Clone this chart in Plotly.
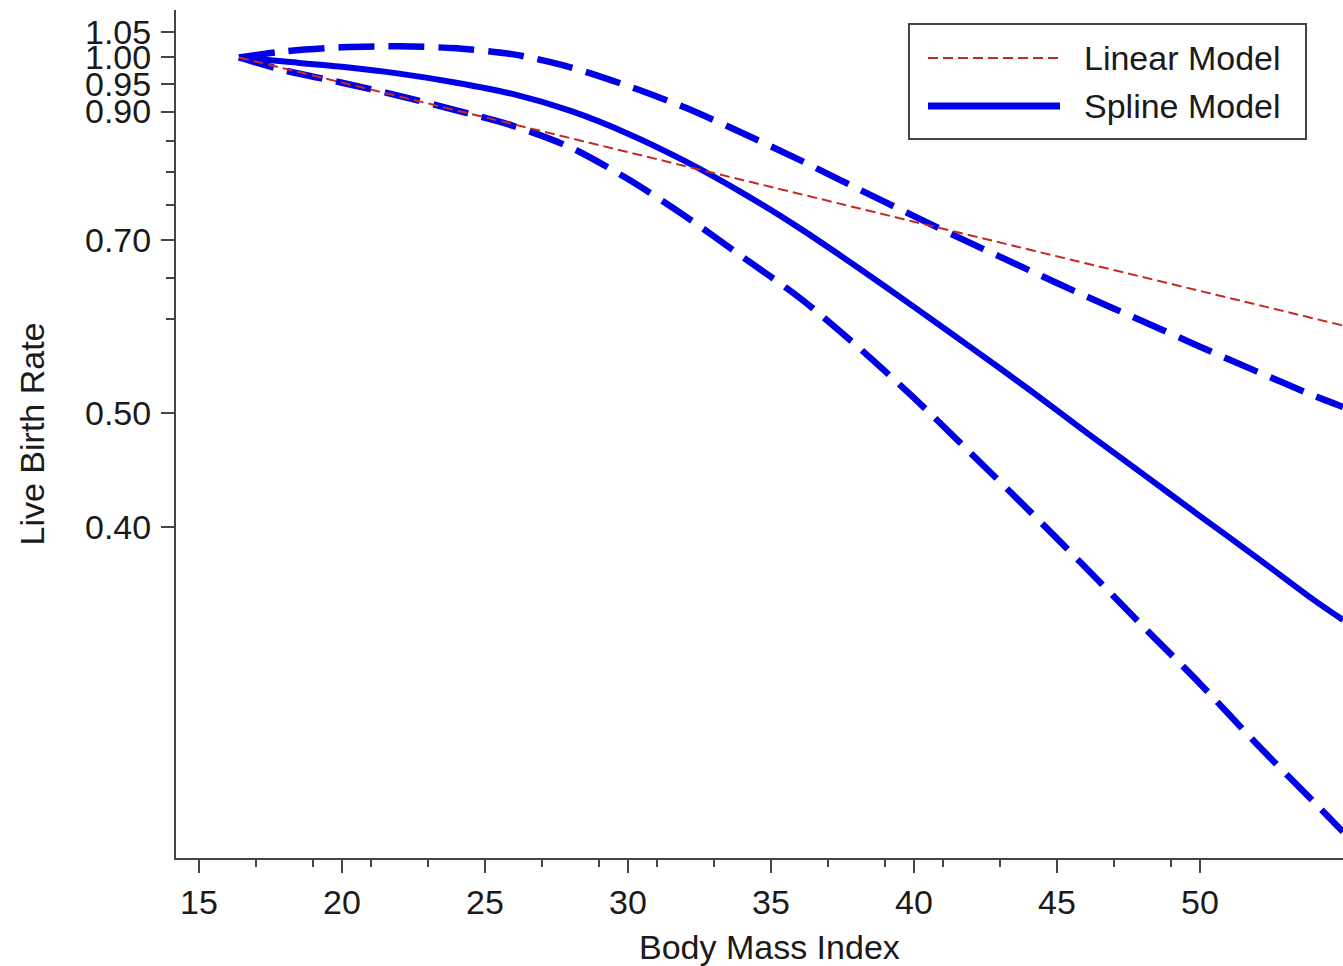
import plotly.graph_objects as go

# BMI grid for the restricted cubic spline fit and its 95% confidence band
bmi = [16.4, 18, 20, 22, 24, 26, 28, 30, 32, 34, 36, 38, 40, 42, 44, 46, 48, 50, 52, 54, 55]
spline_est = [1.000, 0.992, 0.982, 0.969, 0.952, 0.931, 0.901, 0.862, 0.817, 0.768, 0.717,
              0.665, 0.615, 0.568, 0.524, 0.482, 0.444, 0.409, 0.377, 0.347, 0.334]
spline_upper = [1.000, 1.012, 1.020, 1.022, 1.018, 1.006, 0.981, 0.946, 0.907, 0.863, 0.819,
                0.775, 0.734, 0.696, 0.661, 0.628, 0.598, 0.569, 0.542, 0.517, 0.506]
spline_lower = [1.000, 0.975, 0.952, 0.928, 0.902, 0.875, 0.839, 0.789, 0.734, 0.678, 0.626,
                0.570, 0.515, 0.462, 0.414, 0.370, 0.330, 0.295, 0.262, 0.234, 0.221]

# Log-linear model
linear_bmi = [16.4, 30, 40, 55]
linear_est = [1.000, 0.831, 0.726, 0.593]

# Axis ticks
x_major = [15, 20, 25, 30, 35, 40, 45, 50]
x_minor = [17, 19, 21, 23, 27, 29, 31, 33, 37, 39, 41, 43, 47, 49]
y_major = [0.40, 0.50, 0.70, 0.90, 0.95, 1.00, 1.05]
y_major_text = ["0.40", "0.50", "0.70", "0.90", "0.95", "1.00", "1.05"]
y_minor = [0.60, 0.65, 0.75, 0.80, 0.85]

legend_labels = ["Linear Model", "Spline Model"]

BLUE = "#0000e6"
RED = "#c52a22"
AXIS = "#444444"
TEXT = "#1a1a1a"
FONT = "Liberation Sans, Arial, sans-serif"

RED_LINE = dict(color=RED, width=2, dash="10px,5px")
BLUE_SOLID = dict(color=BLUE, width=6)
BLUE_DASH = dict(color=BLUE, width=6.5, dash="36px,14px")

fig = go.Figure()

for band in (spline_upper, spline_lower):
    fig.add_trace(go.Scatter(
        x=bmi, y=band, mode="lines", showlegend=False, hoverinfo="skip",
        line=dict(**BLUE_DASH, shape="spline", smoothing=0.8),
    ))

fig.add_trace(go.Scatter(
    x=bmi, y=spline_est, mode="lines", name=legend_labels[1], showlegend=False,
    line=dict(**BLUE_SOLID, shape="spline", smoothing=0.8),
))

fig.add_trace(go.Scatter(
    x=linear_bmi, y=linear_est, mode="lines", name=legend_labels[0], showlegend=False,
    line=RED_LINE,
))

# Boxed key in the upper right corner (paper coordinates)
box_x0, box_x1, box_y0, box_y1 = 0.6281, 0.9683, 0.8479, 0.9835
key_x0, key_x1, text_x = 0.6444, 0.7575, 0.7763
row_y = [0.9434, 0.8868]

fig.add_shape(type="rect", xref="paper", yref="paper",
              x0=box_x0, x1=box_x1, y0=box_y0, y1=box_y1,
              line=dict(color=AXIS, width=2), fillcolor="white", layer="above")
for ry, style, label in zip(row_y, (RED_LINE, dict(color=BLUE, width=7)), legend_labels):
    fig.add_shape(type="line", xref="paper", yref="paper",
                  x0=key_x0, x1=key_x1, y0=ry, y1=ry, line=style, layer="above")
    fig.add_annotation(text=label, xref="paper", yref="paper", x=text_x, y=ry,
                       xanchor="left", yanchor="middle", showarrow=False,
                       font=dict(size=34, color=TEXT))

fig.update_layout(
    width=1343, height=966,
    margin=dict(l=176, r=0, t=10, b=108),
    paper_bgcolor="white", plot_bgcolor="white",
    font=dict(family=FONT, size=34, color=TEXT),
    showlegend=False,
    xaxis=dict(
        range=[14.2, 55.0],
        tickmode="array", tickvals=x_major, ticktext=[str(v) for v in x_major],
        ticks="outside", ticklen=13, tickwidth=2, tickcolor=AXIS,
        showline=True, linecolor=AXIS, linewidth=2,
        showgrid=False, zeroline=False,
        minor=dict(tickmode="array", tickvals=x_minor, ticks="outside",
                   ticklen=7, tickwidth=2, tickcolor=AXIS, showgrid=False),
        tickfont=dict(size=34, color=TEXT),
    ),
    yaxis=dict(
        type="log",
        range=[-0.6778, 0.0402],
        tickmode="array", tickvals=y_major, ticktext=y_major_text,
        ticks="outside", ticklen=13, tickwidth=2, tickcolor=AXIS,
        showline=True, linecolor=AXIS, linewidth=2,
        showgrid=False, zeroline=False,
        minor=dict(tickmode="array", tickvals=y_minor, ticks="outside",
                   ticklen=8, tickwidth=2, tickcolor=AXIS, showgrid=False),
        tickfont=dict(size=34, color=TEXT),
        ticklabelstandoff=3,
        title=dict(text="Live Birth Rate", font=dict(size=34, color=TEXT), standoff=30),
    ),
)

# x-axis title
fig.add_annotation(
    text="Body Mass Index", xref="paper", yref="paper",
    x=0.5086, y=0, yshift=-89, xanchor="center", yanchor="middle",
    showarrow=False, font=dict(size=34, color=TEXT),
)

fig.write_html("out.html")
